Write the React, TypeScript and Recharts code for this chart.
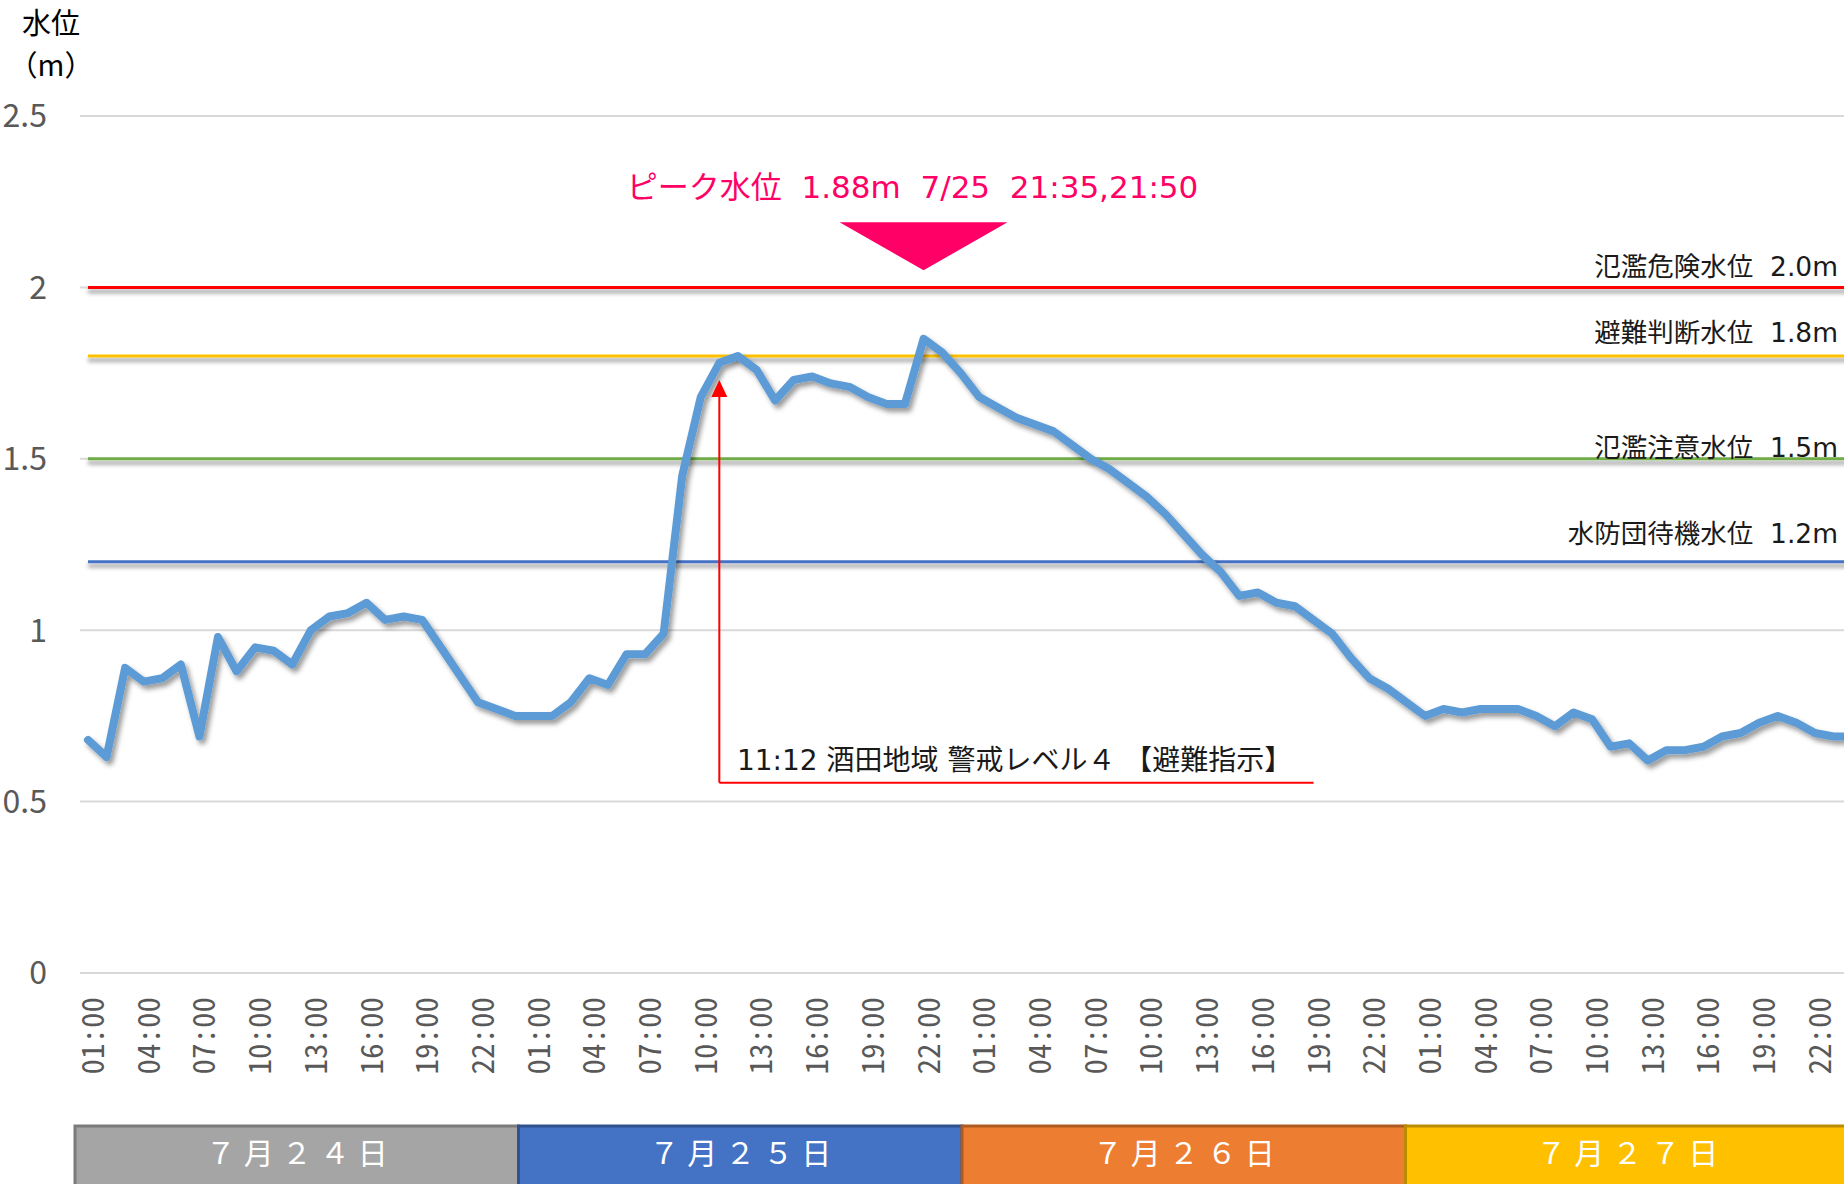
import React from "react";
import { LineChart, Line, XAxis, YAxis, CartesianGrid, ReferenceLine, ReferenceDot } from "recharts";

// days and hourly categories (01:00 .. 24:00)
const DAY_KEYS = ["7/24", "7/25", "7/26", "7/27"];
const DAY_LABELS = ["７月２４日", "７月２５日", "７月２６日", "７月２７日"];
const HOURS = [
  "01:00", "02:00", "03:00", "04:00", "05:00", "06:00", "07:00", "08:00",
  "09:00", "10:00", "11:00", "12:00", "13:00", "14:00", "15:00", "16:00",
  "17:00", "18:00", "19:00", "20:00", "21:00", "22:00", "23:00", "24:00",
];

// water level (m), hourly
const LEVEL_0724 = [0.68, 0.63, 0.89, 0.85, 0.86, 0.9, 0.69, 0.98, 0.88, 0.95, 0.94, 0.9, 1.0, 1.04, 1.05, 1.08, 1.03, 1.04, 1.03, 0.95, 0.87, 0.79, 0.77, 0.75];
const LEVEL_0725 = [0.75, 0.75, 0.79, 0.86, 0.84, 0.93, 0.93, 0.99, 1.45, 1.68, 1.78, 1.8, 1.76, 1.67, 1.73, 1.74, 1.72, 1.71, 1.68, 1.66, 1.66, 1.85, 1.81, 1.75];
const LEVEL_0726 = [1.68, 1.65, 1.62, 1.6, 1.58, 1.54, 1.5, 1.47, 1.43, 1.39, 1.34, 1.28, 1.22, 1.17, 1.1, 1.11, 1.08, 1.07, 1.03, 0.99, 0.92, 0.86, 0.83, 0.79];
const LEVEL_0727 = [0.75, 0.77, 0.76, 0.77, 0.77, 0.77, 0.75, 0.72, 0.76, 0.74, 0.66, 0.67, 0.62, 0.65, 0.65, 0.66, 0.69, 0.7, 0.73, 0.75, 0.73, 0.7, 0.69, 0.69];
const LEVELS = [LEVEL_0724, LEVEL_0725, LEVEL_0726, LEVEL_0727];

const Y_TICKS = [0, 0.5, 1, 1.5, 2, 2.5];

const THRESHOLD_NAMES = ["氾濫危険水位", "避難判断水位", "氾濫注意水位", "水防団待機水位"];
const THRESHOLD_VALUES = [2.0, 1.8, 1.5, 1.2];

const PEAK_TEXT = "ピーク水位  1.88m  7/25  21:35,21:50";
const PEAK_AT = "7/25 22:00";
const WARNING_TEXT = "11:12 酒田地域 警戒レベル４ 【避難指示】";
const WARNING_AT = "7/25 11:00";
const WARNING_TEXT_AT = "7/25 12:00";
const WARNING_END = "7/26 19:00";

const data = DAY_KEYS.flatMap((d, di) =>
  HOURS.map((h, hi) => ({ key: `${d} ${h}`, level: LEVELS[di][hi] }))
);
const FIRST_KEY = data[0].key;
const LAST_KEY = data[data.length - 1].key;

// styles
const FONT = '"Noto Sans CJK JP", "Noto Sans", sans-serif';
const LABEL_FONT = '"DejaVu Sans", "Noto Sans CJK JP", sans-serif';
const THRESHOLD_COLORS = ["#FF0000", "#FFC000", "#70AD47", "#4472C4"];
const THRESHOLD_LABEL_LIFT = [11, 14, 2, 19];
const LABEL_RIGHT = 1838;
const PINK = "#FF0066";
const DAY_FILLS = ["#A5A5A5", "#4472C4", "#ED7D31", "#FFC000"];
const DAY_STROKES = ["#7B7B7B", "#2F528F", "#AE5A21", "#BC8C00"];
const DATE_BAR = { left: 75, top: 1126, dayWidth: 443.5, height: 80 };

const css = `
.threshold line { filter: url(#refShadow); }
.recharts-line-curve { filter: url(#lineShadow); }
`;

function TimeTick(props: any) {
  const { x, y, payload } = props;
  const label = String(payload.value).split(" ")[1];
  return (
    <text
      x={x}
      y={y}
      dy={16}
      transform={`rotate(-90 ${x} ${y})`}
      textAnchor="end"
      fill="#595959"
      fontSize={31}
      fontFamily={FONT}
      style={{ fontFeatureSettings: '"hwid" 1' }}
    >
      {label}
    </text>
  );
}

export default function App() {
  return (
    <div
      style={{
        position: "absolute",
        left: 0,
        top: 0,
        width: 1844,
        height: 1184,
        overflow: "hidden",
        background: "#fff",
        fontFamily: FONT,
      }}
    >
      <style>{css}</style>
      <svg width={0} height={0} style={{ position: "absolute" }}>
        <defs>
          <filter id="lineShadow" filterUnits="userSpaceOnUse" x={0} y={0} width={1900} height={1200}>
            <feDropShadow dx={3} dy={4} stdDeviation={2.5} floodColor="#000" floodOpacity={0.4} />
          </filter>
          <filter id="refShadow" filterUnits="userSpaceOnUse" x={0} y={0} width={1900} height={1200}>
            <feDropShadow dx={0} dy={4} stdDeviation={2} floodColor="#000" floodOpacity={0.45} />
          </filter>
        </defs>
      </svg>

      <LineChart width={1852} height={1184} data={data} margin={{ top: 116, right: 0, bottom: 0, left: 0 }}>
        <CartesianGrid vertical={false} stroke="#D9D9D9" strokeWidth={2} />
        <XAxis
          dataKey="key"
          interval={2}
          padding={{ left: 8, right: 0 }}
          axisLine={false}
          tickLine={false}
          tickSize={0}
          tickMargin={24}
          height={211}
          tick={(p: any) => <TimeTick {...p} />}
        />
        <YAxis
          domain={[0, 2.5]}
          ticks={Y_TICKS}
          width={80}
          axisLine={false}
          tickLine={false}
          tickSize={0}
          tickMargin={33}
          tick={{ fill: "#595959", fontSize: 32, fontFamily: FONT }}
        />

        {THRESHOLD_VALUES.map((v, i) => (
          <ReferenceLine
            key={THRESHOLD_NAMES[i]}
            className="threshold"
            segment={[
              { x: FIRST_KEY, y: v },
              { x: LAST_KEY, y: v },
            ]}
            stroke={THRESHOLD_COLORS[i]}
            strokeWidth={3}
            label={(p: any) => (
              <text
                x={LABEL_RIGHT}
                y={p.viewBox.y - THRESHOLD_LABEL_LIFT[i]}
                textAnchor="end"
                fontSize={26.5}
                fontFamily={LABEL_FONT}
                fill="#1A1A1A"
                style={{ whiteSpace: "pre" }}
              >
                {`${THRESHOLD_NAMES[i]}  ${v.toFixed(1)}m`}
              </text>
            )}
          />
        ))}

        <Line
          dataKey="level"
          type="linear"
          stroke="#5B9BD5"
          strokeWidth={8}
          strokeLinejoin="round"
          strokeLinecap="round"
          dot={false}
          activeDot={false}
          isAnimationActive={false}
        />

        {/* 避難指示 annotation */}
        <ReferenceLine
          segment={[
            { x: WARNING_AT, y: 0.555 },
            { x: WARNING_AT, y: 1.69 },
          ]}
          stroke="#FF0000"
          strokeWidth={2}
        />
        <ReferenceLine
          segment={[
            { x: WARNING_AT, y: 0.555 },
            { x: WARNING_END, y: 0.555 },
          ]}
          stroke="#FF0000"
          strokeWidth={2}
        />
        <ReferenceDot
          x={WARNING_AT}
          y={1.73}
          shape={(p: any) => (
            <polygon
              points={`${p.cx},${p.cy} ${p.cx - 8},${p.cy + 17} ${p.cx + 8},${p.cy + 17}`}
              fill="#FF0000"
            />
          )}
        />
        <ReferenceDot
          x={WARNING_TEXT_AT}
          y={0.555}
          shape={(p: any) => (
            <text x={p.cx - 1} y={p.cy - 13} textAnchor="start" fontSize={28} fontFamily={LABEL_FONT} fill="#1A1A1A">
              {WARNING_TEXT}
            </text>
          )}
        />

        {/* peak marker */}
        <ReferenceDot
          x={PEAK_AT}
          y={2.05}
          shape={(p: any) => (
            <g>
              <text
                x={p.cx - 11}
                y={p.cy - 72}
                textAnchor="middle"
                fontSize={31}
                fontFamily={LABEL_FONT}
                fill={PINK}
                style={{ whiteSpace: "pre" }}
              >
                {PEAK_TEXT}
              </text>
              <polygon
                points={`${p.cx - 84},${p.cy - 48} ${p.cx + 84},${p.cy - 48} ${p.cx},${p.cy}`}
                fill={PINK}
              />
            </g>
          )}
        />
      </LineChart>

      <svg
        width={1844}
        height={1184}
        style={{ position: "absolute", left: 0, top: 0, pointerEvents: "none" }}
      >
        <text x={51} y={34} textAnchor="middle" fontSize={29} fontFamily={FONT} fill="#000">
          水位
        </text>
        <text x={51} y={76} textAnchor="middle" fontSize={29} fontFamily={FONT} fill="#000">
          （m）
        </text>
        {DAY_LABELS.map((label, i) => {
          const x = DATE_BAR.left + i * DATE_BAR.dayWidth;
          return (
            <g key={label}>
              <rect
                x={x}
                y={DATE_BAR.top}
                width={DATE_BAR.dayWidth}
                height={DATE_BAR.height}
                fill={DAY_FILLS[i]}
                stroke={DAY_STROKES[i]}
                strokeWidth={3}
              />
              <text
                x={x + DATE_BAR.dayWidth / 2 + 4}
                y={DATE_BAR.top + 38}
                textAnchor="middle"
                fontSize={30}
                letterSpacing={8}
                fontFamily={FONT}
                fill="#FFFFFF"
              >
                {label}
              </text>
            </g>
          );
        })}
      </svg>
    </div>
  );
}
